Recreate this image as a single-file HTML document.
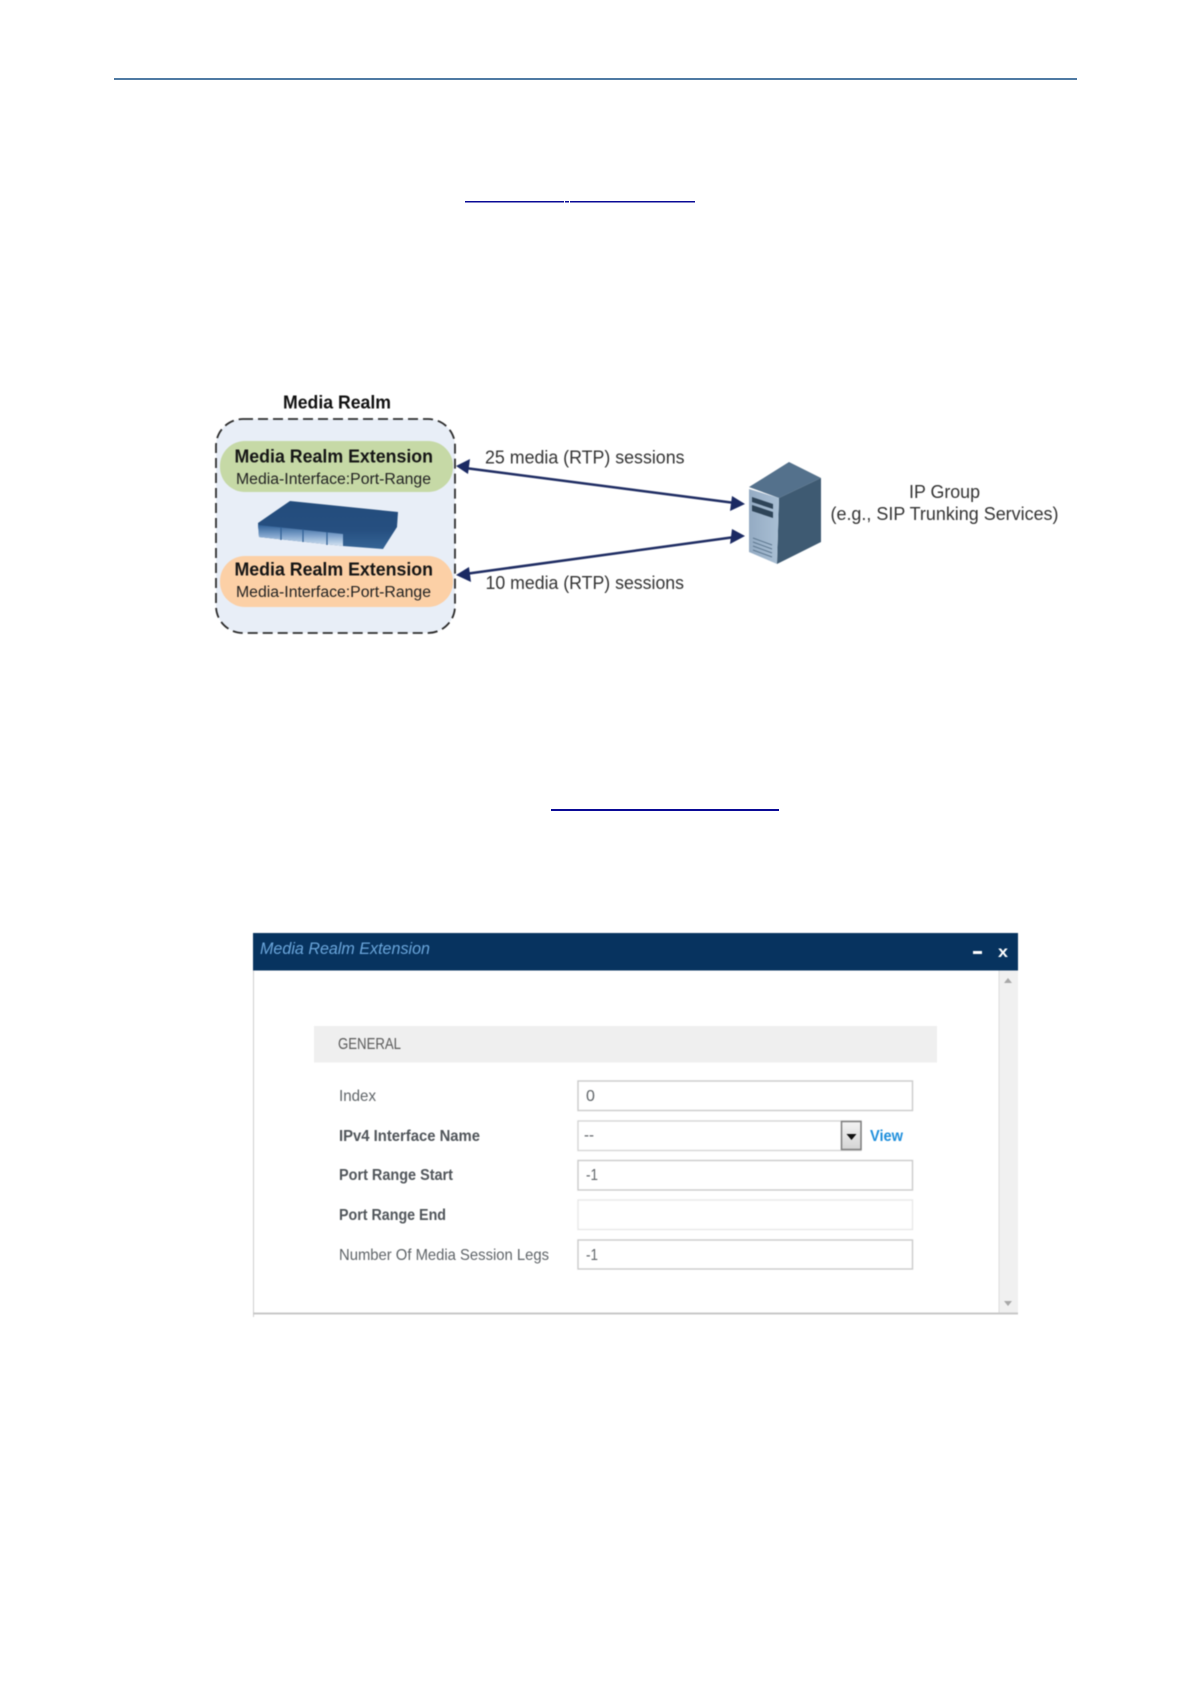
<!DOCTYPE html>
<html lang="en">
<head>
<meta charset="utf-8">
<title>Media Realm Extension</title>
<style>
html,body{margin:0;padding:0;background:#fff;width:1191px;height:1684px;overflow:hidden}
svg{display:block}
text{font-family:"Liberation Sans",sans-serif}
g.b{filter:blur(.4px)}
</style>
</head>
<body>
<svg xmlns="http://www.w3.org/2000/svg" width="1191" height="1684" viewBox="0 0 1191 1684">
<defs>
<linearGradient id="fr" x1="0" y1="0" x2="0" y2="1"><stop offset="0" stop-color="#2f6097"/><stop offset=".5" stop-color="#7fa3cc"/><stop offset="1" stop-color="#d4e3f2"/></linearGradient>
<linearGradient id="fr2" x1="0" y1="0" x2="0" y2="1"><stop offset="0" stop-color="#234c7c"/><stop offset=".6" stop-color="#264f80"/><stop offset="1" stop-color="#356596"/></linearGradient>
<linearGradient id="srv" x1="0" y1="0" x2="1" y2="0"><stop offset="0" stop-color="#94abc3"/><stop offset="1" stop-color="#a9bfd4"/></linearGradient>
<linearGradient id="btn" x1="0" y1="0" x2="0" y2="1"><stop offset="0" stop-color="#f4f4f4"/><stop offset="1" stop-color="#d4d4d4"/></linearGradient>
</defs>

<!-- header rule and links -->
<rect x="114" y="78" width="963" height="2" fill="#4f7aa3"/>
<rect x="465" y="201" width="99" height="1.5" fill="#0a0a96"/>
<rect x="565" y="201" width="4" height="1.5" fill="#0a0a96"/>
<rect x="570" y="201" width="125" height="1.5" fill="#0a0a96"/>
<rect x="551" y="809" width="228" height="2" fill="#0a0a96"/>

<g class="b">
<!-- media realm -->
<text x="283" y="408.500" font-size="18" font-weight="700" fill="#111" textLength="108" lengthAdjust="spacingAndGlyphs">Media Realm</text>
<rect x="216" y="419" width="239" height="214" rx="27" ry="27" fill="#e8eef7" stroke="#2c2c2c" stroke-width="1.8" stroke-dasharray="10 5"/>
<rect x="220" y="441" width="233" height="51" rx="25" fill="#c6d9a6"/>
<rect x="220" y="556" width="233" height="51" rx="25" fill="#fcd0a6"/>
<text x="234.500" y="462.500" font-size="18" font-weight="700" fill="#151515" textLength="198.500" lengthAdjust="spacingAndGlyphs">Media Realm Extension</text>
<text x="236" y="484" font-size="15.500" fill="#222" textLength="195" lengthAdjust="spacingAndGlyphs">Media-Interface:Port-Range</text>
<text x="234.500" y="575.500" font-size="18" font-weight="700" fill="#151515" textLength="198.500" lengthAdjust="spacingAndGlyphs">Media Realm Extension</text>
<text x="236" y="597" font-size="15.500" fill="#222" textLength="195" lengthAdjust="spacingAndGlyphs">Media-Interface:Port-Range</text>

<!-- device -->
<polygon points="258,523 290,501 398,512 397,527 383,549 343,546 259,537" fill="url(#fr2)"/>
<polygon points="258,525 343,534 343,546 259,537" fill="url(#fr)"/>
<path d="M281 527V540M303 529V542M327 532V545" stroke="#2f5f94" stroke-width="1.2"/>

<!-- arrows -->
<g stroke="#1f2d63" stroke-width="2.500" fill="#1f2d63">
<line x1="465" y1="468" x2="735" y2="503"/>
<line x1="465" y1="574" x2="735" y2="537"/>
</g>
<g fill="#1b2a63">
<polygon points="456,466 470,459 468,474"/>
<polygon points="745,504 730,511 732,496"/>
<polygon points="456,575 469,567 471,582"/>
<polygon points="745,536 732,529 730,544"/>
</g>

<text x="485" y="463.500" font-size="18" fill="#333" textLength="199.500" lengthAdjust="spacingAndGlyphs">25 media (RTP) sessions</text>
<text x="485.500" y="589" font-size="18" fill="#333" textLength="198.500" lengthAdjust="spacingAndGlyphs">10 media (RTP) sessions</text>
<text x="909" y="498" font-size="18" fill="#333" textLength="71" lengthAdjust="spacingAndGlyphs">IP Group</text>
<text x="830.500" y="520" font-size="18" fill="#333" textLength="228" lengthAdjust="spacingAndGlyphs">(e.g., SIP Trunking Services)</text>

<!-- server -->
<polygon points="749,487 789,462 821,478 779,498" fill="#54718c"/>
<polygon points="779,498 821,478 821,542 777,564" fill="#3e5a72"/>
<polygon points="749,489 779,498 777,564 749,552" fill="url(#srv)"/>
<polygon points="752,497 773,504 773,509 752,502" fill="#2e4458"/>
<polygon points="752,505 773,512 773,518 752,511" fill="#2e4458"/>
<path d="M753 538L772 545M753 542L772 549M753 546L772 553M753 550L772 557" stroke="#5e7890" stroke-width="1" fill="none"/>

<!-- panel -->
<rect x="253" y="970" width="1" height="347" fill="#cfcfcf"/>
<rect x="999" y="970" width="19" height="344" fill="#f0f0f0"/>
<rect x="998.500" y="970" width="1" height="344" fill="#dedede"/>
<rect x="253" y="1312.500" width="765" height="2" fill="#c8c8c8"/>
<rect x="253" y="933" width="765" height="37.500" fill="#07335f"/>
<text x="260" y="954" font-size="17" font-style="italic" fill="#6aa5da" textLength="170" lengthAdjust="spacingAndGlyphs">Media Realm Extension</text>
<rect x="973" y="951" width="9" height="3" fill="#fff"/>
<text x="998" y="957" font-size="16" font-weight="700" fill="#fff" textLength="10" lengthAdjust="spacingAndGlyphs">x</text>
<polygon points="1008,978 1012,983 1004,983" fill="#a8a8a8"/>
<polygon points="1008,1306 1012,1301 1004,1301" fill="#a8a8a8"/>

<rect x="314" y="1026" width="623" height="36.500" fill="#efefef"/>
<text x="338" y="1049" font-size="16" fill="#5a5a5a" textLength="63" lengthAdjust="spacingAndGlyphs">GENERAL</text>

<g font-size="16" fill="#5f6468">
<text x="339" y="1101" textLength="37" lengthAdjust="spacingAndGlyphs">Index</text>
<text x="339" y="1260" textLength="210" lengthAdjust="spacingAndGlyphs">Number Of Media Session Legs</text>
</g>
<g font-size="16" font-weight="700" fill="#50555a">
<text x="339" y="1141" textLength="141" lengthAdjust="spacingAndGlyphs">IPv4 Interface Name</text>
<text x="339" y="1180" textLength="114" lengthAdjust="spacingAndGlyphs">Port Range Start</text>
<text x="339" y="1220" textLength="107" lengthAdjust="spacingAndGlyphs">Port Range End</text>
</g>

<g fill="#fff" stroke="#cbcbcb" stroke-width="1.400">
<rect x="578" y="1081" width="334.500" height="29.500"/>
<rect x="578" y="1121" width="283" height="29.500" stroke="#d6d6d6"/>
<rect x="578" y="1160.500" width="334.500" height="29.500"/>
<rect x="578" y="1200" width="334.500" height="29.500" stroke="#e8e8e8"/>
<rect x="578" y="1240" width="334.500" height="29"/>
</g>
<rect x="841.500" y="1121.500" width="19.500" height="28" fill="url(#btn)" stroke="#7d7d7d" stroke-width="1.500"/>
<polygon points="846.500,1134 856.500,1134 851.500,1140" fill="#111"/>

<g font-size="16" fill="#5f6468">
<text x="586" y="1101">0</text>
<text x="584" y="1140" textLength="10" lengthAdjust="spacingAndGlyphs">--</text>
<text x="586" y="1180" textLength="12" lengthAdjust="spacingAndGlyphs">-1</text>
<text x="586" y="1260" textLength="12" lengthAdjust="spacingAndGlyphs">-1</text>
</g>
<text x="870" y="1141" font-size="16" font-weight="700" fill="#1f8fdc" textLength="33" lengthAdjust="spacingAndGlyphs">View</text>
</g>
</svg>
</body>
</html>
